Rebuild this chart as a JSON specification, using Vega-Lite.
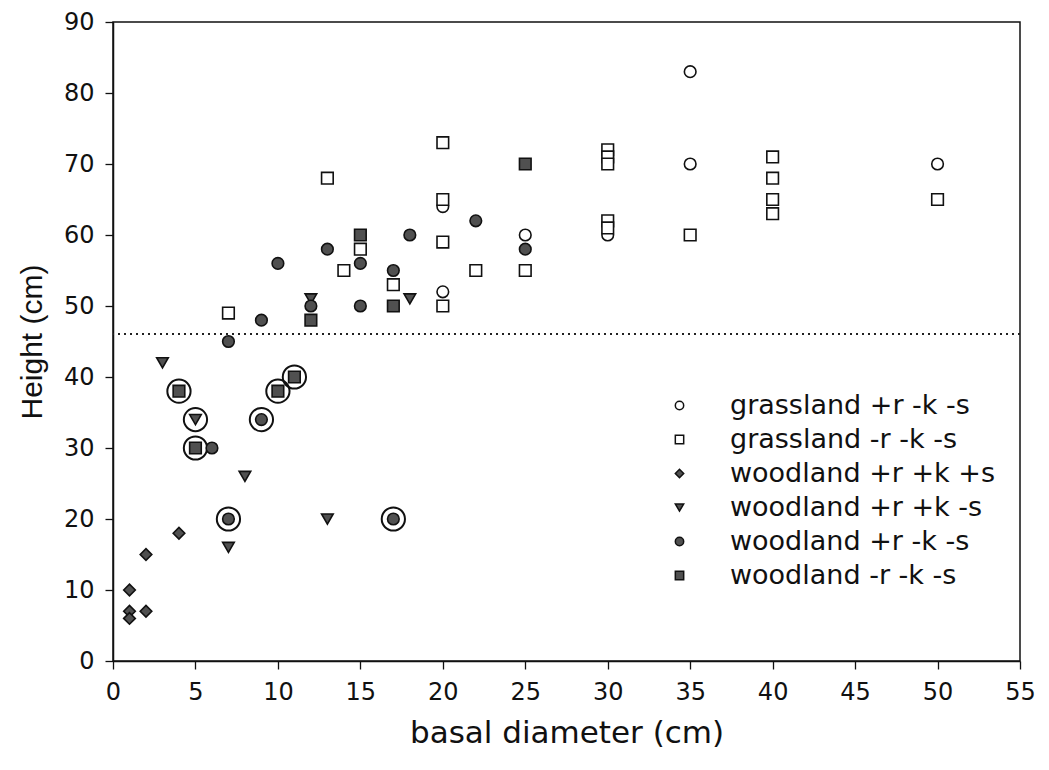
{
  "$schema": "https://vega.github.io/schema/vega-lite/v6.json",
  "width": 907,
  "height": 639,
  "autosize": {"type": "none"},
  "padding": {"left": 113, "top": 22, "right": 29, "bottom": 109},
  "background": "white",
  "config": {
    "view": {"stroke": "#111", "strokeWidth": 1.5},
    "font": "DejaVu Sans",
    "axis": {
      "grid": false,
      "domainColor": "#111",
      "domainWidth": 1.5,
      "tickColor": "#111",
      "tickWidth": 1.3,
      "tickSize": 8,
      "labelFlush": false,
      "labelOverlap": false,
      "labelFont": "DejaVu Sans",
      "labelColor": "#111",
      "titleFont": "DejaVu Sans",
      "titleFontWeight": "normal",
      "titleColor": "#111"
    }
  },
  "data": {
    "values": [
      {"d": 20, "h": 52, "group": "grassland +r -k -s", "ring": false},
      {"d": 20, "h": 64, "group": "grassland +r -k -s", "ring": false},
      {"d": 25, "h": 60, "group": "grassland +r -k -s", "ring": false},
      {"d": 30, "h": 60, "group": "grassland +r -k -s", "ring": false},
      {"d": 35, "h": 83, "group": "grassland +r -k -s", "ring": false},
      {"d": 35, "h": 70, "group": "grassland +r -k -s", "ring": false},
      {"d": 50, "h": 70, "group": "grassland +r -k -s", "ring": false},

      {"d": 7, "h": 49, "group": "grassland -r -k -s", "ring": false},
      {"d": 13, "h": 68, "group": "grassland -r -k -s", "ring": false},
      {"d": 14, "h": 55, "group": "grassland -r -k -s", "ring": false},
      {"d": 15, "h": 58, "group": "grassland -r -k -s", "ring": false},
      {"d": 17, "h": 53, "group": "grassland -r -k -s", "ring": false},
      {"d": 20, "h": 50, "group": "grassland -r -k -s", "ring": false},
      {"d": 20, "h": 59, "group": "grassland -r -k -s", "ring": false},
      {"d": 20, "h": 65, "group": "grassland -r -k -s", "ring": false},
      {"d": 20, "h": 73, "group": "grassland -r -k -s", "ring": false},
      {"d": 22, "h": 55, "group": "grassland -r -k -s", "ring": false},
      {"d": 25, "h": 55, "group": "grassland -r -k -s", "ring": false},
      {"d": 30, "h": 72, "group": "grassland -r -k -s", "ring": false},
      {"d": 30, "h": 71, "group": "grassland -r -k -s", "ring": false},
      {"d": 30, "h": 70, "group": "grassland -r -k -s", "ring": false},
      {"d": 30, "h": 62, "group": "grassland -r -k -s", "ring": false},
      {"d": 30, "h": 61, "group": "grassland -r -k -s", "ring": false},
      {"d": 35, "h": 60, "group": "grassland -r -k -s", "ring": false},
      {"d": 40, "h": 71, "group": "grassland -r -k -s", "ring": false},
      {"d": 40, "h": 68, "group": "grassland -r -k -s", "ring": false},
      {"d": 40, "h": 65, "group": "grassland -r -k -s", "ring": false},
      {"d": 40, "h": 63, "group": "grassland -r -k -s", "ring": false},
      {"d": 50, "h": 65, "group": "grassland -r -k -s", "ring": false},

      {"d": 1, "h": 10, "group": "woodland +r +k +s", "ring": false},
      {"d": 1, "h": 7, "group": "woodland +r +k +s", "ring": false},
      {"d": 1, "h": 6, "group": "woodland +r +k +s", "ring": false},
      {"d": 2, "h": 7, "group": "woodland +r +k +s", "ring": false},
      {"d": 2, "h": 15, "group": "woodland +r +k +s", "ring": false},
      {"d": 4, "h": 18, "group": "woodland +r +k +s", "ring": false},

      {"d": 3, "h": 42, "group": "woodland +r +k -s", "ring": false},
      {"d": 5, "h": 34, "group": "woodland +r +k -s", "ring": true},
      {"d": 7, "h": 16, "group": "woodland +r +k -s", "ring": false},
      {"d": 8, "h": 26, "group": "woodland +r +k -s", "ring": false},
      {"d": 12, "h": 51, "group": "woodland +r +k -s", "ring": false},
      {"d": 13, "h": 20, "group": "woodland +r +k -s", "ring": false},
      {"d": 18, "h": 51, "group": "woodland +r +k -s", "ring": false},

      {"d": 6, "h": 30, "group": "woodland +r -k -s", "ring": false},
      {"d": 7, "h": 45, "group": "woodland +r -k -s", "ring": false},
      {"d": 7, "h": 20, "group": "woodland +r -k -s", "ring": true},
      {"d": 9, "h": 48, "group": "woodland +r -k -s", "ring": false},
      {"d": 9, "h": 34, "group": "woodland +r -k -s", "ring": true},
      {"d": 10, "h": 56, "group": "woodland +r -k -s", "ring": false},
      {"d": 12, "h": 50, "group": "woodland +r -k -s", "ring": false},
      {"d": 13, "h": 58, "group": "woodland +r -k -s", "ring": false},
      {"d": 15, "h": 56, "group": "woodland +r -k -s", "ring": false},
      {"d": 15, "h": 50, "group": "woodland +r -k -s", "ring": false},
      {"d": 17, "h": 55, "group": "woodland +r -k -s", "ring": false},
      {"d": 17, "h": 20, "group": "woodland +r -k -s", "ring": true},
      {"d": 18, "h": 60, "group": "woodland +r -k -s", "ring": false},
      {"d": 22, "h": 62, "group": "woodland +r -k -s", "ring": false},
      {"d": 25, "h": 58, "group": "woodland +r -k -s", "ring": false},

      {"d": 4, "h": 38, "group": "woodland -r -k -s", "ring": true},
      {"d": 5, "h": 30, "group": "woodland -r -k -s", "ring": true},
      {"d": 10, "h": 38, "group": "woodland -r -k -s", "ring": true},
      {"d": 11, "h": 40, "group": "woodland -r -k -s", "ring": true},
      {"d": 12, "h": 48, "group": "woodland -r -k -s", "ring": false},
      {"d": 15, "h": 60, "group": "woodland -r -k -s", "ring": false},
      {"d": 17, "h": 50, "group": "woodland -r -k -s", "ring": false},
      {"d": 25, "h": 70, "group": "woodland -r -k -s", "ring": false}
    ]
  },
  "layer": [
    {
      "mark": {"type": "rule", "stroke": "#222", "strokeWidth": 1.4, "strokeDash": [2, 4]},
      "encoding": {"y": {"datum": 46, "type": "quantitative"}}
    },
    {
      "transform": [{"filter": "datum.ring"}],
      "mark": {"type": "point", "shape": "circle", "size": 540, "filled": false, "stroke": "#111", "strokeWidth": 2, "opacity": 1},
      "encoding": {
        "x": {"field": "d", "type": "quantitative"},
        "y": {"field": "h", "type": "quantitative"}
      }
    },
    {
      "mark": {"type": "point", "size": 135, "filled": true, "stroke": "#111", "strokeWidth": 1.6, "opacity": 1},
      "encoding": {
        "x": {
          "field": "d",
          "type": "quantitative",
          "scale": {"domain": [0, 55], "nice": false, "zero": false},
          "axis": {
            "values": [0, 5, 10, 15, 20, 25, 30, 35, 40, 45, 50, 55],
            "title": "basal diameter (cm)",
            "titleFontSize": 31,
            "titlePadding": 14,
            "labelFontSize": 24,
            "labelPadding": 11
          }
        },
        "y": {
          "field": "h",
          "type": "quantitative",
          "scale": {"domain": [0, 90], "nice": false},
          "axis": {
            "values": [0, 10, 20, 30, 40, 50, 60, 70, 80, 90],
            "title": "Height (cm)",
            "titleFont": "Liberation Sans",
            "titleFontSize": 30,
            "titlePadding": 16,
            "labelFontSize": 24,
            "labelPadding": 11
          }
        },
        "shape": {
          "field": "group",
          "type": "nominal",
          "title": null,
          "scale": {
            "domain": ["grassland +r -k -s", "grassland -r -k -s", "woodland +r +k +s", "woodland +r +k -s", "woodland +r -k -s", "woodland -r -k -s"],
            "range": ["circle", "square", "diamond", "triangle-down", "circle", "square"]
          },
          "legend": {
            "orient": "none",
            "legendX": 553,
            "legendY": 370,
            "labelFont": "DejaVu Sans",
            "labelFontSize": 27,
            "labelLimit": 400,
            "labelColor": "#111",
            "labelOffset": 37,
            "symbolSize": 70,
            "rowPadding": 6,
            "padding": 0,
            "encode": {
              "symbols": {
                "update": {
                  "stroke": {"value": "#111"},
                  "strokeWidth": {"value": 1.3},
                  "opacity": {"value": 1}
                }
              }
            }
          }
        },
        "fill": {
          "field": "group",
          "type": "nominal",
          "title": null,
          "scale": {
            "domain": ["grassland +r -k -s", "grassland -r -k -s", "woodland +r +k +s", "woodland +r +k -s", "woodland +r -k -s", "woodland -r -k -s"],
            "range": ["#ffffff", "#ffffff", "#505050", "#505050", "#505050", "#505050"]
          }
        }
      }
    }
  ]
}
